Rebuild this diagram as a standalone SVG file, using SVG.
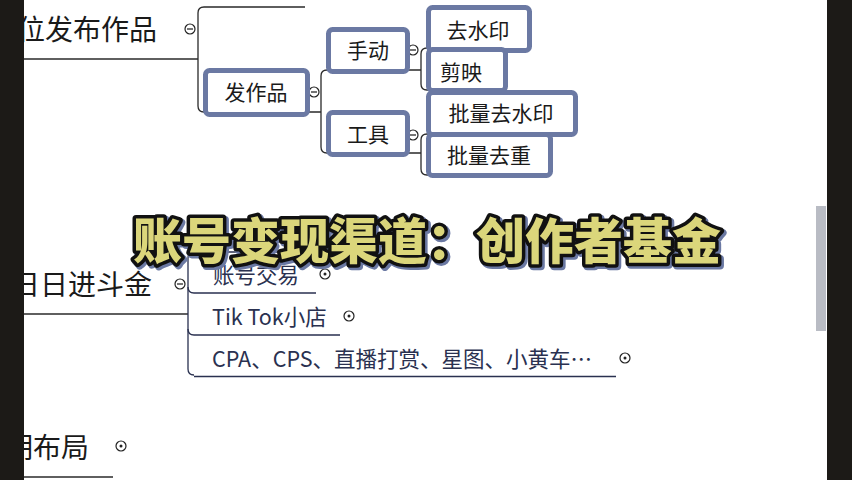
<svg xmlns="http://www.w3.org/2000/svg" width="852" height="480" viewBox="0 0 852 480">
<style>
.main{font-family:"Noto Sans CJK SC","Noto Sans",sans-serif;font-size:28px;fill:#1a1a1a}
.box{fill:#fff;stroke:#6b79a3;stroke-width:5}
.bt{font-family:"Noto Sans CJK SC","Noto Sans",sans-serif;font-size:21px;fill:#1a1a1a}
.ct{font-family:"Noto Sans CJK SC","Noto Sans",sans-serif;font-size:21.5px;fill:#2a3150}
.ln{fill:none;stroke:#2a2a2a;stroke-width:1.3}
.ul{fill:none;stroke:#2a3150;stroke-width:1.3}
.mk{fill:#fff;stroke:#222;stroke-width:1.2}
.title{font-family:"Noto Sans CJK SC","Noto Sans",sans-serif;font-size:49px;font-weight:900;paint-order:stroke fill;stroke-linejoin:round}
</style>
<rect width="852" height="480" fill="#fff"/>
<g id="connectors">
  <path class="ln" d="M24 59H198"/>
  <path class="ln" d="M305 7H204Q198 7 198 13V106Q198 112 204 112H210"/>
  <path class="ln" d="M305 112H321M330 70H327Q321 70 321 76V147Q321 153 327 153H330"/>
  <path class="ln" d="M405 70H421M430 48H427Q421 48 421 54V84Q421 90 427 90H430"/>
  <path class="ln" d="M405 153H421M430 134H427Q421 134 421 140V169Q421 175 427 175H430"/>
  <path class="ln" d="M24 314H188"/>
  <path class="ul" d="M300 252H194Q188 252 188 258V369Q188 375 194 375"/>
  <path class="ul" d="M188 287Q188 293 194 293H316"/>
  <path class="ul" d="M188 329Q188 335 194 335H340"/>
  <path class="ul" d="M194 376.5H616"/>
  <path class="ln" d="M24 477H113"/>
</g>
<g id="n-main1">
  <text class="main" x="17" y="40">位发布作品</text>
  <circle class="mk" cx="190" cy="29" r="5"/><path class="ln" d="M187 29H193"/>
</g>
<g id="n-fazuopin">
  <circle class="mk" cx="314" cy="92" r="5"/><path class="ln" d="M311 92H317"/>
  <rect class="box" x="205.5" y="70.5" width="102" height="44" rx="4"/>
  <text class="bt" x="256" y="100" text-anchor="middle">发作品</text>
</g>
<g id="n-shoudong">
  <circle class="mk" cx="413" cy="50" r="5"/><path class="ln" d="M410 50H416"/>
  <rect class="box" x="328.5" y="29.5" width="79" height="42" rx="4"/>
  <text class="bt" x="368" y="58" text-anchor="middle">手动</text>
</g>
<g id="n-gongju">
  <circle class="mk" cx="413" cy="135" r="5"/><path class="ln" d="M410 135H416"/>
  <rect class="box" x="328.5" y="112.5" width="79" height="42" rx="4"/>
  <text class="bt" x="368" y="142" text-anchor="middle">工具</text>
</g>
<g id="n-qushuiyin">
  <rect class="box" x="428.5" y="7.5" width="101" height="43" rx="4"/>
  <text class="bt" x="478" y="38" text-anchor="middle">去水印</text>
</g>
<g id="n-jianying">
  <rect class="box" x="428.5" y="49.5" width="77" height="41" rx="4"/>
  <text class="bt" x="461" y="80" text-anchor="middle">剪映</text>
</g>
<g id="n-piliangqushuiyin">
  <rect class="box" x="428.5" y="92.5" width="147" height="42" rx="4"/>
  <text class="bt" x="501" y="121" text-anchor="middle">批量去水印</text>
</g>
<g id="n-piliangquzhong">
  <rect class="box" x="428.5" y="134.5" width="122" height="41" rx="4"/>
  <text class="bt" x="489" y="163" text-anchor="middle">批量去重</text>
</g>
<g id="n-main2">
  <text class="main" x="12" y="295">日日进斗金</text>
  <circle class="mk" cx="180" cy="284" r="5"/><path class="ln" d="M177 284H183"/>
</g>
<g id="n-zhanghaojiaoyi">
  <text class="ct" x="213" y="283">账号交易</text>
  <circle class="mk" cx="325" cy="274" r="5"/><circle cx="325" cy="274" r="1.5" fill="#222"/>
</g>
<g id="n-tiktok">
  <text class="ct" x="212" y="325">Tik Tok小店</text>
  <circle class="mk" cx="349" cy="316" r="5"/><circle cx="349" cy="316" r="1.5" fill="#222"/>
</g>
<g id="n-cpa">
  <text class="ct" x="212" y="367">CPA、CPS、直播打赏、星图、小黄车…</text>
  <circle class="mk" cx="625" cy="358" r="5"/><circle cx="625" cy="358" r="1.5" fill="#222"/>
</g>
<g id="n-main3">
  <text class="main" x="-23" y="458">前期布局</text>
  <circle class="mk" cx="121" cy="446" r="5"/><circle cx="121" cy="446" r="1.5" fill="#222"/>
</g>
<g id="title">
  <text class="title" x="135" y="261" fill="#6b79a3" stroke="#6b79a3" stroke-width="8">账号变现渠道：创作者基金</text>
  <text class="title" x="133" y="259" fill="#dbd67b" stroke="#111" stroke-width="7">账号变现渠道：创作者基金</text>
</g>
<rect x="0" y="0" width="24" height="480" fill="#1c1a17"/>
<rect x="827" y="0" width="25" height="480" fill="#1c1a17"/>
<rect x="816" y="206" width="10" height="125" fill="#b9bcc4"/>
</svg>
